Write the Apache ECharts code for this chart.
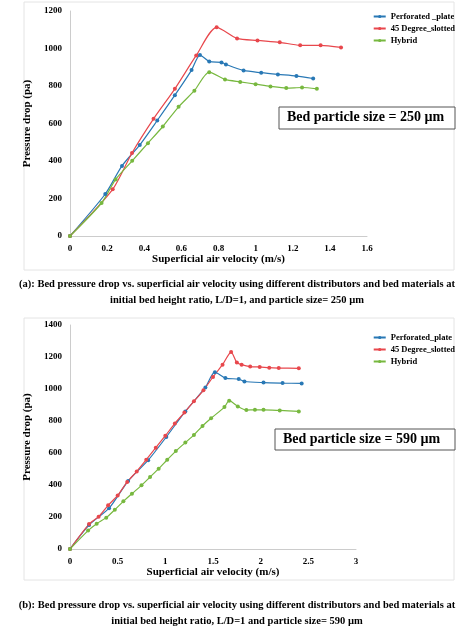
<!DOCTYPE html><html><head><meta charset="utf-8"><script src="https://cdn.jsdelivr.net/npm/echarts@6/dist/echarts.min.js"></script></head><body style="margin:0;background:#fff"><div id="c" style="width:474px;height:629px"></div><script>
const seriesNames=['Perforated _plate','45 Degree_slotted','Hybrid'];
const seriesNamesB=['Perforated_plate','45 Degree_slotted','Hybrid'];
const aPerf=[[0,0],[0.19,224],[0.28,374],[0.376,486],[0.47,616],[0.565,751],[0.655,885],[0.70,965],[0.75,931],[0.816,926],[0.84,915],[0.935,883],[1.03,871],[1.12,862],[1.22,853],[1.31,840]];
const aSlot=[[0,0],[0.23,249],[0.334,443],[0.45,625],[0.565,785],[0.68,963],[0.79,1113],[0.90,1054],[1.01,1043],[1.13,1033],[1.24,1017],[1.35,1017],[1.46,1006]];
const aHyb=[[0,0],[0.17,176],[0.246,302],[0.335,401],[0.42,495],[0.50,584],[0.585,689],[0.67,775],[0.75,874],[0.835,835],[0.917,822],[1.0,810],[1.08,798],[1.165,789],[1.25,792],[1.33,785]];
const bPerf=[[0,0],[0.2,150],[0.41,255],[0.61,425],[0.82,555],[1.01,700],[1.21,860],[1.42,1010],[1.52,1105],[1.63,1068],[1.77,1062],[1.83,1047],[2.03,1040],[2.23,1037],[2.43,1035]];
const bSlot=[[0,0],[0.2,156],[0.3,202],[0.4,273],[0.5,335],[0.6,419],[0.7,485],[0.8,558],[0.9,633],[1.0,708],[1.1,785],[1.2,853],[1.3,923],[1.4,992],[1.5,1075],[1.6,1152],[1.69,1231],[1.75,1165],[1.8,1152],[1.89,1140],[1.99,1138],[2.09,1133],[2.19,1131],[2.40,1129]];
const bHyb=[[0,0],[0.19,115],[0.28,158],[0.38,196],[0.47,246],[0.56,298],[0.65,346],[0.75,398],[0.84,450],[0.93,502],[1.02,558],[1.11,612],[1.21,665],[1.30,713],[1.39,769],[1.48,817],[1.62,887],[1.67,927],[1.76,891],[1.85,868],[1.94,870],[2.03,870],[2.2,866],[2.40,860]];
const colors=['#2878b5','#e8474c','#77b83f'];
const F='Liberation Serif';
const ch=echarts.init(document.getElementById('c'));
function ax(i,min,max,iv,name,gap){return {gridIndex:i,type:'value',min:min,max:max,interval:iv,name:name,nameLocation:'middle',nameGap:gap,nameTextStyle:{fontFamily:F,fontWeight:'bold',fontSize:11,color:'#000'},axisLine:{show:true,lineStyle:{color:'#ccc'}},axisTick:{show:false},splitLine:{show:false},axisLabel:{fontFamily:F,fontWeight:'bold',fontSize:9,color:'#000',formatter:v=>String(v)}};}
function s(name,data,c,xi){return {name:name,type:'line',xAxisIndex:xi,yAxisIndex:xi,data:data,smooth:0.25,symbol:'circle',symbolSize:4,lineStyle:{width:1.2,color:colors[c]},itemStyle:{color:colors[c]}};}
const leg=(top,names)=>({top:top,right:14,orient:'vertical',itemWidth:12,itemHeight:4,itemGap:3,textStyle:{fontFamily:F,fontWeight:'bold',fontSize:8.5,color:'#000'},data:names,formatter:n=>n.split('|')[0]});
ch.setOption({
animation:false,
grid:[{left:70,top:11,width:297,height:225},{left:70,top:325,width:286,height:224}],
xAxis:[ax(0,0,1.6,0.2,'Superficial air velocity (m/s)',12),ax(1,0,3,0.5,'Superficial air velocity (m/s)',12)],
yAxis:[ax(0,0,1200,200,'Pressure drop (pa)',32),ax(1,0,1400,200,'Pressure drop (pa)',32)],
legend:[leg(7,seriesNames.map(n=>n+'|a')),leg(328,seriesNamesB.map(n=>n+'|b'))],
series:[s(seriesNames[0]+'|a',aPerf,0,0),s(seriesNames[1]+'|a',aSlot,1,0),s(seriesNames[2]+'|a',aHyb,2,0),
s(seriesNamesB[0]+'|b',bPerf,0,1),s(seriesNamesB[1]+'|b',bSlot,1,1),s(seriesNamesB[2]+'|b',bHyb,2,1)],
graphic:[
{type:'rect',shape:{x:24,y:2,width:430,height:268},style:{fill:'none',stroke:'#e4e4e4'}},
{type:'rect',shape:{x:24,y:318,width:430,height:262},style:{fill:'none',stroke:'#e4e4e4'}},
{type:'rect',shape:{x:279,y:107,width:176,height:22},style:{fill:'#fff',stroke:'#555',lineWidth:1}},
{type:'text',x:287,y:110,style:{text:'Bed particle size = 250 µm',font:'bold 14px "Liberation Serif"',fill:'#000'}},
{type:'rect',shape:{x:275,y:429,width:180,height:21},style:{fill:'#fff',stroke:'#555',lineWidth:1}},
{type:'text',x:283,y:432,style:{text:'Bed particle size = 590 µm',font:'bold 14px "Liberation Serif"',fill:'#000'}},
{type:'text',left:'center',y:276,style:{text:'(a): Bed pressure drop vs. superficial air velocity using different distributors and bed materials at\ninitial bed height ratio, L/D=1, and particle size= 250 µm',font:'bold 10.5px "Liberation Serif"',fill:'#000',align:'center',lineHeight:16}},
{type:'text',left:'center',y:597,style:{text:'(b): Bed pressure drop vs. superficial air velocity using different distributors and bed materials at\ninitial bed height ratio, L/D=1 and particle size= 590 µm',font:'bold 10.5px "Liberation Serif"',fill:'#000',align:'center',lineHeight:16}}
]});
</script></body></html>
